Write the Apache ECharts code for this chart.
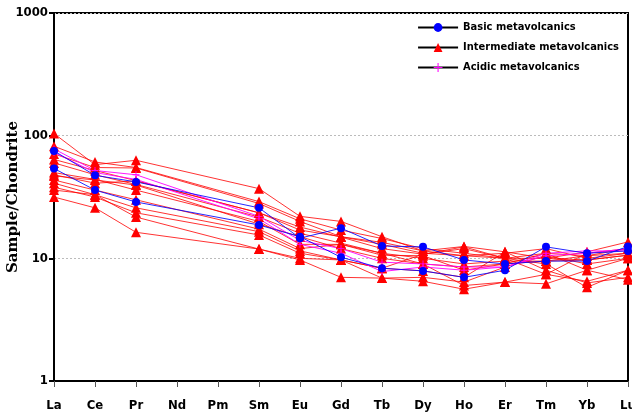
<!DOCTYPE html>
<html>
<head>
<meta charset="utf-8">
<script src="https://cdn.jsdelivr.net/npm/echarts@6/dist/echarts.min.js"></script>
<style>
  html, body { margin: 0; padding: 0; background: #fff; }
  #chart { width: 632px; height: 416px; }
</style>
</head>
<body>
<div id="chart"></div>
<script>
// REE elements (chondrite-normalised); Nd and Pm were not analysed
const elements = ['La', 'Ce', 'Pr', 'Nd', 'Pm', 'Sm', 'Eu', 'Gd', 'Tb', 'Dy', 'Ho', 'Er', 'Tm', 'Yb', 'Lu'];
const yTicks = [1, 10, 100, 1000];

// Intermediate metavolcanics
const inter01 = [104, 58, 63, null, null, 37, 22, 20, 15, 11.5, 12.5, 11.3, 10, 11.3, 13.6];
const inter02 = [82, 61, 55, null, null, 29, 21, 17, 14.5, 12, 11, 10, 11, 10.5, 12];
const inter03 = [71, 55, 54.5, null, null, 28, 20, 15, 13, 11, 10.5, 11, 12, 10, 11];
const inter04 = [64, 52, 43, null, null, 23.5, 18, 14.9, 12, 10.8, 12.4, 10, 10, 9.7, 10.6];
const inter05 = [60, 48, 40, null, null, 21.7, 16, 13.3, 11, 10, 9, 9.5, 9.5, 10.5, 11];
const inter06 = [50, 44, 36, null, null, 20, 13, 13, 10.6, 10.5, 8, 9, 11, 8, 10];
const inter07 = [48, 41, 42.7, null, null, 23.5, 17, 15, 13.5, 11.5, 10.5, 10, 9, 5.8, 8];
const inter08 = [43.5, 36, 30, null, null, 17.3, 12, 13, 11, 9, 6, 6.4, 7.4, 11, 12];
const inter09 = [41, 33, 25.8, null, null, 16.5, 11.5, 9.7, 8.3, 7.9, 7, 11.3, 8, 6.3, 7];
const inter10 = [38, 31.6, 23.5, null, null, 15.5, 11, 9.7, 6.9, 7, 6.4, 8.5, 10.5, 9, 10];
const inter11 = [36, 33, 21.7, null, null, 11.9, 10, 9.7, 8.3, 10.8, 12, 10, 7.4, 6.5, 8];
const inter12 = [31.6, 25.8, 16.3, null, null, 11.9, 9.7, 7, 6.9, 6.5, 5.6, 6.4, 6.2, 8, 6.7];
const inter13 = [47, 43.5, 39.6, null, null, 19, 15, 12, 10, 9, 8.5, 9, 9.5, 9.7, 10.6];

// Acidic metavolcanics
const acid01 = [78, 52, 48, null, null, 22, 14, 12, 9.3, 9, 8.5, 8.5, 11, 11.5, 11.5];
const acid02 = [73, 50, 44, null, null, 21, 13, 11, 7.8, 8.5, 8, 8.5, 10.5, 11, 12];

// Basic metavolcanics
const basic01 = [75, 47.5, 42, null, null, 25.8, 14.6, 17.6, 12.6, 12.4, 9.7, 9, 9.5, 9.5, 12.5];
const basic02 = [54, 36, 28.8, null, null, 18.7, 15, 10.2, 8.3, 7.9, 7, 8, 12.4, 11, 11.5];

const interSets = [inter01, inter02, inter03, inter04, inter05, inter06, inter07,
                   inter08, inter09, inter10, inter11, inter12, inter13];
const acidSets = [acid01, acid02];
const basicSets = [basic01, basic02];

const NAME_BASIC = 'Basic metavolcanics';
const NAME_INTER = 'Intermediate metavolcanics';
const NAME_ACID = 'Acidic metavolcanics';

const PLUS = 'path://M4.4,0 H5.6 V4.4 H10 V5.6 H5.6 V10 H4.4 V5.6 H0 V4.4 H4.4 Z';
const labelFont = "'DejaVu Sans Condensed', sans-serif";

function makeSeries(name, data, color, symbol, size, opacity) {
  return {
    name: name,
    type: 'line',
    data: data,
    connectNulls: true,
    symbol: symbol,
    symbolSize: size,
    showSymbol: true,
    lineStyle: { color: color, width: 1, opacity: opacity },
    itemStyle: { color: color },
    emphasis: { disabled: true },
    animation: false
  };
}

const series = [];
interSets.forEach(d => series.push(makeSeries(NAME_INTER, d, '#ff0000', 'triangle', 10, 0.8)));
acidSets.forEach(d => series.push(makeSeries(NAME_ACID, d, '#ff00ff', PLUS, 7, 0.9)));
basicSets.forEach(d => series.push(makeSeries(NAME_BASIC, d, '#0000ff', 'circle', 8, 0.85)));

const chart = echarts.init(document.getElementById('chart'), null, { renderer: 'canvas' });
chart.setOption({
  backgroundColor: '#ffffff',
  animation: false,
  grid: {
    left: 54, right: 4, top: 13, bottom: 35,
    containLabel: false,
    outerBoundsMode: 'none',
    show: true, borderColor: '#000', borderWidth: 2
  },
  legend: {
    orient: 'vertical',
    right: 8,
    top: 17,
    align: 'left',
    itemWidth: 40,
    itemHeight: 11,
    itemGap: 9,
    selectedMode: false,
    textStyle: { fontFamily: labelFont, fontWeight: 'bold', fontSize: 11, color: '#000' },
    data: [
      { name: NAME_BASIC, itemStyle: { color: '#0000ff' }, lineStyle: { color: '#000', width: 2, opacity: 1 } },
      { name: NAME_INTER, itemStyle: { color: '#ff0000' }, lineStyle: { color: '#000', width: 2, opacity: 1 } },
      { name: NAME_ACID, itemStyle: { color: '#ff00ff' }, lineStyle: { color: '#000', width: 2, opacity: 1 } }
    ]
  },
  xAxis: {
    type: 'category',
    data: elements,
    boundaryGap: false,
    axisLine: { lineStyle: { color: '#000', width: 2 } },
    axisTick: { show: true, length: 6, lineStyle: { color: '#555' } },
    axisLabel: {
      margin: 18, interval: 0,
      fontFamily: labelFont, fontWeight: 'bold', fontSize: 13, color: '#000'
    },
    splitLine: { show: false }
  },
  yAxis: {
    type: 'log',
    logBase: 10,
    min: yTicks[0],
    max: yTicks[yTicks.length - 1],
    name: 'Sample/Chondrite',
    nameLocation: 'middle',
    nameGap: 33,
    nameMoveOverlap: false,
    nameRotate: 90,
    nameTextStyle: { fontFamily: "'DejaVu Serif', serif", fontWeight: 'bold', fontSize: 15, color: '#000' },
    axisLine: { show: true, lineStyle: { color: '#000', width: 2 } },
    axisTick: { show: true, length: 5, lineStyle: { color: '#000', width: 2 } },
    minorTick: { show: false },
    axisLabel: {
      margin: 6,
      fontFamily: labelFont, fontWeight: 'bold', fontSize: 13, color: '#000',
      formatter: v => String(Math.round(v))
    },
    splitLine: { show: true, lineStyle: { color: '#bbb', type: [2, 2], width: 1 } }
  },
  series: series
});
</script>
</body>
</html>
